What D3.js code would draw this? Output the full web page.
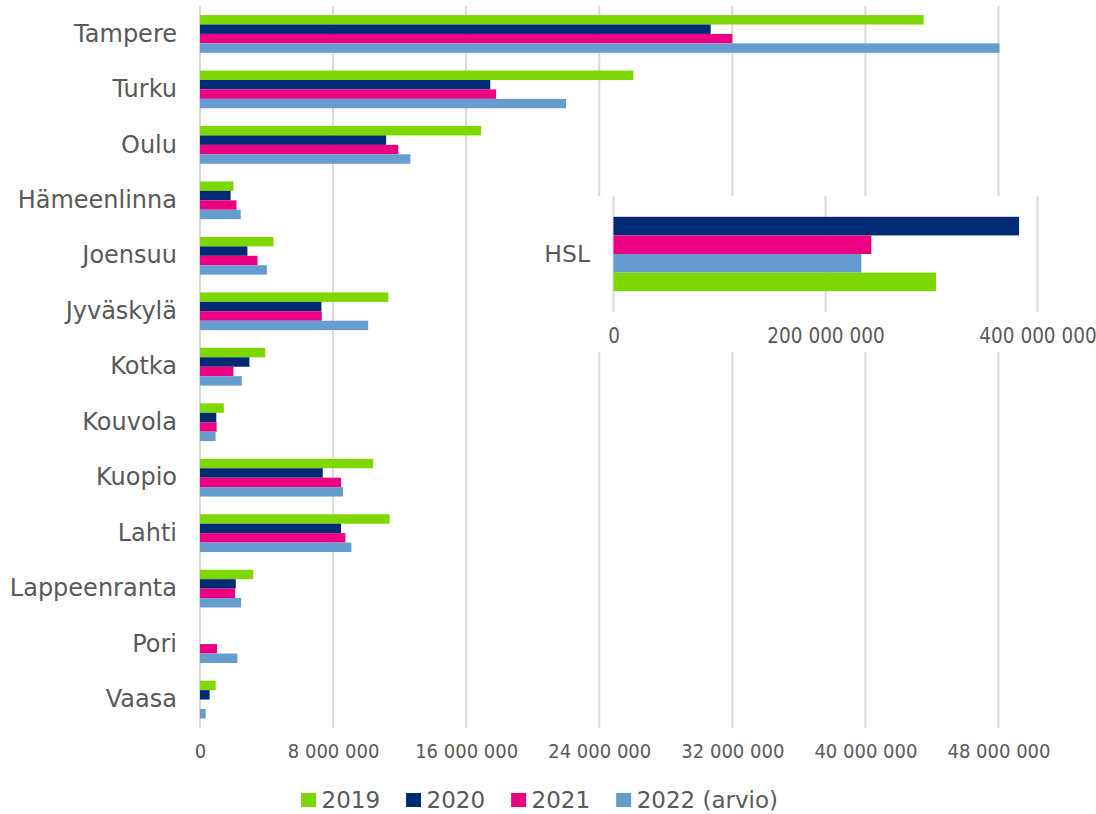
<!DOCTYPE html>
<html>
<head>
<meta charset="utf-8">
<script src="https://cdn.jsdelivr.net/npm/d3@7/dist/d3.min.js"></script>
<style>
  html, body { margin: 0; padding: 0; background: #ffffff; }
  svg { display: block; }
  text { font-family: "DejaVu Sans", Verdana, sans-serif; fill: #595959; }
  .tick-lbl { font-family: "DejaVu Sans Condensed", "DejaVu Sans", sans-serif; font-stretch: condensed; }
</style>
</head>
<body>
<svg id="chart" width="1096" height="814"></svg>
<script>
// ---------- DATA ----------
const cities = ["Tampere", "Turku", "Oulu", "Hämeenlinna", "Joensuu", "Jyväskylä", "Kotka",
                "Kouvola", "Kuopio", "Lahti", "Lappeenranta", "Pori", "Vaasa"];
const seriesNames = ["2019", "2020", "2021", "2022 (arvio)"];
const values2019 = [43500000, 26050000, 16900000, 2010000, 4420000, 11320000, 3920000,
                    1430000, 10410000, 11400000, 3200000, 0, 940000];
const values2020 = [30700000, 17450000, 11190000, 1840000, 2850000, 7300000, 2970000,
                    980000, 7380000, 8480000, 2150000, 0, 580000];
const values2021 = [32000000, 17800000, 11920000, 2190000, 3460000, 7320000, 2010000,
                    1000000, 8480000, 8740000, 2110000, 1020000, 0];
const values2022 = [48060000, 22000000, 12650000, 2450000, 4020000, 10110000, 2510000,
                    940000, 8600000, 9100000, 2470000, 2250000, 340000];
const xTicks = [0, 8000000, 16000000, 24000000, 32000000, 40000000, 48000000];

// HSL inset (bar order top to bottom as in the picture)
const hslCategory = ["HSL"];
const hslOrder = ["2020", "2021", "2022 (arvio)", "2019"];
const hslValues = { "2019": 304200000, "2020": 382600000, "2021": 243200000, "2022 (arvio)": 233800000 };
const hslTicks = [0, 200000000, 400000000];

const colors = { "2019": "#7fd700", "2020": "#002b74", "2021": "#ec0081", "2022 (arvio)": "#659dd0" };

// ---------- HELPERS ----------
const fmt = v => d3.format(",")(v).replace(/,/g, " ");
const seriesValues = [values2019, values2020, values2021, values2022];
const rows = cities.map((c, i) => ({
  city: c,
  vals: seriesNames.map((s, j) => ({ key: s, value: seriesValues[j][i] }))
}));

const svg = d3.select("#chart");

// ---------- MAIN CHART ----------
const x = d3.scaleLinear().domain([0, 48000000]).range([200, 998.5]);
const y = d3.scaleBand().domain(cities).range([6.2, 727.3]).paddingInner(0.32).paddingOuter(0.16);
const ySub = d3.scaleBand().domain(seriesNames).range([0, y.bandwidth()]);

// gridlines
svg.append("g").selectAll("line").data(xTicks).join("line")
  .attr("x1", d => x(d)).attr("x2", d => x(d))
  .attr("y1", 6).attr("y2", 728)
  .attr("stroke", "#d9d9d9").attr("stroke-width", 2);

// bars
const groups = svg.append("g").selectAll("g").data(rows).join("g")
  .attr("transform", d => `translate(0,${y(d.city)})`);
groups.selectAll("rect").data(d => d.vals.filter(v => v.value > 0)).join("rect")
  .attr("x", x(0))
  .attr("y", d => ySub(d.key))
  .attr("width", d => x(d.value) - x(0))
  .attr("height", ySub.bandwidth())
  .attr("fill", d => colors[d.key]);

// category axis labels
const yAxis = d3.axisLeft(y).tickSize(0).tickPadding(0);
const yg = svg.append("g").attr("transform", "translate(177,0)").call(yAxis);
yg.select(".domain").remove();
yg.selectAll("text").attr("font-size", 24).style("font-family", "'DejaVu Sans', sans-serif").attr("fill", "#595959");

// x axis labels
const xAxis = d3.axisBottom(x).tickValues(xTicks).tickFormat(fmt).tickSize(0).tickPadding(0);
const xg = svg.append("g").attr("transform", "translate(0,744)").call(xAxis);
xg.select(".domain").remove();
xg.selectAll("text").attr("class", "tick-lbl").attr("font-size", 20).attr("fill", "#595959").attr("dy", "0.71em");

// ---------- HSL INSET ----------
const ix = d3.scaleLinear().domain([0, 400000000]).range([613.5, 1037.5]);
const iy = d3.scaleBand().domain(hslCategory).range([196, 312]).paddingInner(0).paddingOuter(0.28);
const iySub = d3.scaleBand().domain(hslOrder).range([0, iy.bandwidth()]);

const inset = svg.append("g");
inset.append("rect").attr("x", 520).attr("y", 196).attr("width", 576).attr("height", 156).attr("fill", "#ffffff");
inset.append("g").selectAll("line").data(hslTicks).join("line")
  .attr("x1", d => ix(d)).attr("x2", d => ix(d))
  .attr("y1", 196).attr("y2", 312)
  .attr("stroke", "#d9d9d9").attr("stroke-width", 2);
inset.append("g").attr("transform", `translate(0,${iy("HSL")})`)
  .selectAll("rect").data(hslOrder.map(k => ({ key: k, value: hslValues[k] }))).join("rect")
  .attr("x", ix(0))
  .attr("y", d => iySub(d.key))
  .attr("width", d => ix(d.value) - ix(0))
  .attr("height", iySub.bandwidth())
  .attr("fill", d => colors[d.key]);

const iyAxis = d3.axisLeft(iy).tickSize(0).tickPadding(0);
const iyg = inset.append("g").attr("transform", "translate(590,0)").call(iyAxis);
iyg.select(".domain").remove();
iyg.selectAll("text").attr("font-size", 23.5).style("font-family", "'DejaVu Sans', sans-serif").attr("fill", "#595959");

const ixAxis = d3.axisBottom(ix).tickValues(hslTicks).tickFormat(fmt).tickSize(0).tickPadding(0);
const ixg = inset.append("g").attr("transform", "translate(0,328)").call(ixAxis);
ixg.select(".domain").remove();
ixg.selectAll("text").attr("class", "tick-lbl").attr("font-size", 20.5).attr("fill", "#595959").attr("dy", "0.71em");

// ---------- LEGEND ----------
const legend = svg.append("g").attr("transform", "translate(301,0)");
let lx = 0;
seriesNames.forEach(s => {
  const g = legend.append("g").attr("transform", `translate(${lx},0)`);
  g.append("rect").attr("x", 0).attr("y", 793).attr("width", 15).attr("height", 14).attr("fill", colors[s]);
  const t = g.append("text").attr("x", 20.5).attr("y", 807.5).attr("font-size", 23).text(s);
  lx += 20.5 + t.node().getComputedTextLength() + 26;
});
</script>
</body>
</html>
